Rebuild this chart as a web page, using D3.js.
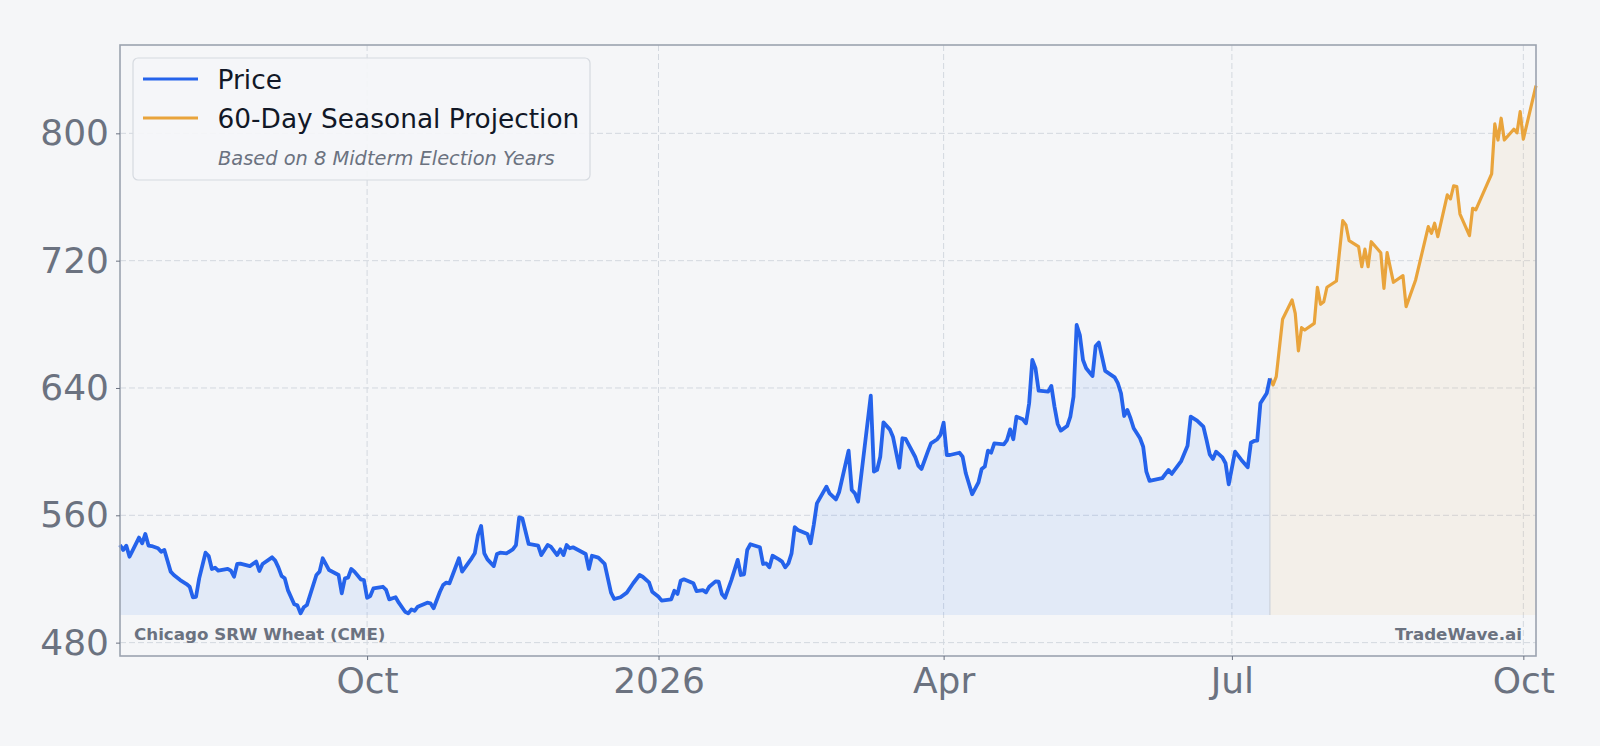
<!DOCTYPE html>
<html>
<head>
<meta charset="utf-8">
<script src="https://cdn.jsdelivr.net/npm/d3@7"></script>
<style>
  html, body { margin: 0; padding: 0; background: #f5f6f8; }
  svg { display: block; font-family: "DejaVu Sans", sans-serif; }
</style>
</head>
<body>
<svg id="chart"></svg>
<script>
// Chicago SRW wheat, daily close
const priceDates = [
  "2025-07-15","2025-07-16","2025-07-17","2025-07-18","2025-07-19","2025-07-21","2025-07-22","2025-07-23","2025-07-24","2025-07-25",
  "2025-07-27","2025-07-28","2025-07-29","2025-07-31","2025-08-01","2025-08-03","2025-08-05","2025-08-06","2025-08-07","2025-08-08",
  "2025-08-09","2025-08-11","2025-08-12","2025-08-13","2025-08-14","2025-08-15","2025-08-18","2025-08-19","2025-08-20","2025-08-21",
  "2025-08-22","2025-08-25","2025-08-27","2025-08-28","2025-08-29","2025-09-01","2025-09-02","2025-09-03","2025-09-04","2025-09-05",
  "2025-09-06","2025-09-08","2025-09-09","2025-09-10","2025-09-11","2025-09-12","2025-09-15","2025-09-16","2025-09-17","2025-09-19",
  "2025-09-22","2025-09-23","2025-09-24","2025-09-25","2025-09-26","2025-09-27","2025-09-29","2025-09-30","2025-10-01","2025-10-02",
  "2025-10-03","2025-10-06","2025-10-07","2025-10-08","2025-10-10","2025-10-11","2025-10-13","2025-10-14","2025-10-15","2025-10-16",
  "2025-10-17","2025-10-20","2025-10-21","2025-10-22","2025-10-24","2025-10-25","2025-10-26","2025-10-27","2025-10-28","2025-10-30",
  "2025-10-31","2025-11-03","2025-11-04","2025-11-05","2025-11-06","2025-11-07","2025-11-08","2025-11-10","2025-11-11","2025-11-12",
  "2025-11-14","2025-11-16","2025-11-17","2025-11-18","2025-11-19","2025-11-21","2025-11-24","2025-11-25","2025-11-27","2025-11-28",
  "2025-11-30","2025-12-01","2025-12-02","2025-12-03","2025-12-04","2025-12-05","2025-12-09","2025-12-10","2025-12-11","2025-12-13",
  "2025-12-15","2025-12-17","2025-12-18","2025-12-20","2025-12-22","2025-12-24","2025-12-26","2025-12-27","2025-12-29","2025-12-30",
  "2026-01-01","2026-01-02","2026-01-05","2026-01-06","2026-01-07","2026-01-08","2026-01-09","2026-01-12","2026-01-13","2026-01-15",
  "2026-01-16","2026-01-17","2026-01-19","2026-01-20","2026-01-21","2026-01-22","2026-01-24","2026-01-26","2026-01-27","2026-01-28",
  "2026-01-29","2026-01-30","2026-02-02","2026-02-03","2026-02-04","2026-02-05","2026-02-06","2026-02-08","2026-02-09","2026-02-10",
  "2026-02-11","2026-02-12","2026-02-13","2026-02-14","2026-02-17","2026-02-18","2026-02-19","2026-02-20","2026-02-23","2026-02-24",
  "2026-02-26","2026-02-27","2026-03-02","2026-03-03","2026-03-04","2026-03-05","2026-03-09","2026-03-10","2026-03-11","2026-03-12",
  "2026-03-13","2026-03-15","2026-03-16","2026-03-18","2026-03-19","2026-03-20","2026-03-23","2026-03-24","2026-03-25","2026-03-27",
  "2026-03-28","2026-03-30","2026-03-31","2026-04-01","2026-04-02","2026-04-03","2026-04-06","2026-04-07","2026-04-08","2026-04-10",
  "2026-04-12","2026-04-13","2026-04-14","2026-04-15","2026-04-16","2026-04-17","2026-04-20","2026-04-21","2026-04-22","2026-04-23",
  "2026-04-24","2026-04-26","2026-04-27","2026-04-28","2026-04-29","2026-04-30","2026-05-01","2026-05-04","2026-05-05","2026-05-06",
  "2026-05-07","2026-05-08","2026-05-10","2026-05-11","2026-05-12","2026-05-13","2026-05-14","2026-05-15","2026-05-16","2026-05-18",
  "2026-05-19","2026-05-20","2026-05-21","2026-05-22","2026-05-25","2026-05-26","2026-05-27","2026-05-28","2026-05-29","2026-05-30",
  "2026-05-31","2026-06-02","2026-06-03","2026-06-04","2026-06-05","2026-06-09","2026-06-11","2026-06-12","2026-06-15","2026-06-17",
  "2026-06-18","2026-06-20","2026-06-22","2026-06-23","2026-06-24","2026-06-25","2026-06-26","2026-06-28","2026-06-29","2026-06-30",
  "2026-07-02","2026-07-04","2026-07-06","2026-07-07","2026-07-08","2026-07-09","2026-07-10","2026-07-12","2026-07-13"
];
const priceValues = [
  541.3, 538.2, 540.9, 534.0, 538.0, 546.0, 542.4, 548.3, 541.0, 540.7,
  539.3, 537.1, 538.2, 524.6, 522.5, 519.3, 516.8, 515.1, 508.5, 508.8,
  520.4, 536.5, 534.4, 526.3, 527.1, 525.2, 526.4, 525.2, 521.4, 529.4,
  529.6, 528.1, 530.9, 525.0, 529.4, 533.6, 531.5, 527.3, 521.9, 520.4,
  513.0, 504.1, 503.4, 498.4, 502.2, 503.6, 522.5, 524.6, 533.0, 525.6,
  522.5, 511.0, 520.4, 520.8, 526.3, 524.6, 519.8, 519.3, 508.2, 509.3,
  514.1, 515.1, 513.1, 507.2, 508.5, 505.1, 499.4, 498.4, 500.9, 500.0,
  502.6, 505.1, 504.7, 501.6, 512.0, 516.2, 517.7, 517.3, 522.5, 533.0,
  524.6, 533.0, 536.1, 547.6, 553.3, 536.1, 532.3, 528.1, 535.7, 536.5,
  536.1, 538.6, 541.3, 558.7, 558.1, 542.0, 540.9, 535.0, 541.3, 540.3,
  535.0, 538.6, 535.0, 541.3, 539.3, 539.9, 535.7, 526.3, 534.6, 533.4,
  529.5, 511.4, 507.4, 508.5, 511.4, 517.3, 522.5, 521.4, 517.9, 512.0,
  508.8, 506.4, 507.2, 512.6, 510.6, 518.9, 519.8, 517.3, 512.4, 513.0,
  511.6, 515.1, 518.5, 518.3, 510.6, 508.2, 519.3, 532.0, 522.5, 522.9,
  538.2, 541.8, 539.9, 529.4, 529.8, 527.3, 534.6, 532.3, 530.9, 527.3,
  529.8, 536.1, 552.5, 550.8, 548.3, 542.4, 553.9, 567.5, 578.0, 573.8,
  570.0, 574.5, 600.6, 575.9, 573.8, 568.6, 635.2, 587.4, 588.5, 596.8,
  618.4, 614.0, 609.4, 589.9, 608.4, 608.0, 596.8, 591.2, 589.1, 600.0,
  605.2, 607.8, 610.5, 618.2, 597.9, 597.9, 599.3, 596.8, 586.4, 573.2,
  580.7, 589.1, 590.6, 600.6, 599.3, 605.2, 604.6, 607.3, 614.0, 607.8,
  622.0, 620.3, 617.8, 630.4, 657.6, 652.4, 638.3, 637.7, 641.3, 628.3,
  617.4, 613.2, 616.1, 622.0, 634.5, 679.6, 673.3, 657.6, 652.4, 647.5,
  666.4, 668.5, 659.7, 650.7, 646.7, 643.0, 636.7, 622.4, 626.2, 621.0,
  614.7, 608.4, 603.1, 587.4, 581.6, 583.3, 588.5, 586.0, 594.1, 603.7,
  622.0, 619.5, 615.7, 607.3, 598.3, 595.4, 600.0, 596.4, 592.7, 579.5,
  600.0, 594.8, 590.2, 605.6, 606.7, 606.9, 630.4, 636.7, 646.1
];

// 60-day seasonal projection (midterm election years)
const projDates = [
  "2026-07-13","2026-07-14","2026-07-15","2026-07-17","2026-07-20","2026-07-21","2026-07-22","2026-07-23","2026-07-24","2026-07-27",
  "2026-07-28","2026-07-29","2026-07-30","2026-07-31","2026-08-03","2026-08-05","2026-08-06","2026-08-07","2026-08-10","2026-08-11",
  "2026-08-12","2026-08-13","2026-08-14","2026-08-17","2026-08-18","2026-08-19","2026-08-21","2026-08-24","2026-08-25","2026-08-28",
  "2026-09-01","2026-09-02","2026-09-03","2026-09-04","2026-09-07","2026-09-08","2026-09-09","2026-09-10","2026-09-11","2026-09-14",
  "2026-09-15","2026-09-16","2026-09-21","2026-09-22","2026-09-23","2026-09-24","2026-09-25","2026-09-28","2026-09-29","2026-09-30",
  "2026-10-01","2026-10-05"
];
const projValues = [
  646.1, 641.9, 647.1, 683.2, 695.3, 686.9, 663.3, 677.9, 676.4, 680.6,
  703.3, 692.6, 694.2, 703.3, 707.2, 745.1, 742.4, 732.6, 728.8, 716.2,
  727.2, 716.2, 731.9, 725.0, 702.6, 725.0, 706.4, 710.6, 691.1, 707.9,
  741.4, 737.2, 743.5, 735.1, 761.3, 758.8, 767.0, 766.5, 749.3, 735.7,
  752.9, 751.9, 774.5, 805.9, 795.8, 809.5, 795.8, 802.6, 800.4, 813.6,
  796.3, 830.0
];

const yTicks = [480, 560, 640, 720, 800];
const xTickDates = ["2025-10-01", "2026-01-01", "2026-04-01", "2026-07-01", "2026-10-01"];
const xTickLabels = ["Oct", "2026", "Apr", "Jul", "Oct"];
const xDomain = ["2025-07-15", "2026-10-05"];
const yDomain = [471.6, 855.5];
const fillBase = 497.3;

const width = 1600;
const height = 746;
const marginTop = 45;
const marginRight = 64;
const marginBottom = 90;
const marginLeft = 120;

const blue = "#2563eb";
const orange = "#e9a43c";
const textGray = "#6b7280";

const parse = d3.utcParse("%Y-%m-%d");
const price = priceDates.map((d, i) => ({ date: parse(d), value: priceValues[i] }));
const proj = projDates.map((d, i) => ({ date: parse(d), value: projValues[i] }));

const x = d3.scaleUtc(xDomain.map(parse), [marginLeft, width - marginRight]);
const y = d3.scaleLinear(yDomain, [height - marginBottom, marginTop]);

const line = d3.line()
  .x(d => x(d.date))
  .y(d => y(d.value));

const area = d3.area()
  .x(d => x(d.date))
  .y0(y(fillBase))
  .y1(d => y(d.value));

const svg = d3.select("svg#chart")
  .attr("width", width)
  .attr("height", height)
  .attr("viewBox", [0, 0, width, height]);

svg.append("rect")
  .attr("width", width)
  .attr("height", height)
  .attr("fill", "#f5f6f8");

// grid
const grid = svg.append("g")
  .attr("stroke", "#d3d8df")
  .attr("stroke-width", 1)
  .attr("stroke-dasharray", "6,3");
grid.selectAll(".hgrid")
  .data(yTicks)
  .join("line")
  .attr("x1", marginLeft)
  .attr("x2", width - marginRight)
  .attr("y1", d => y(d))
  .attr("y2", d => y(d));
grid.selectAll(".vgrid")
  .data(xTickDates)
  .join("line")
  .attr("x1", d => x(parse(d)))
  .attr("x2", d => x(parse(d)))
  .attr("y1", marginTop)
  .attr("y2", height - marginBottom);

// filled areas
svg.append("path")
  .attr("fill", "#3b82f6")
  .attr("fill-opacity", 0.1)
  .attr("d", area(price));
svg.append("path")
  .attr("fill", orange)
  .attr("fill-opacity", 0.08)
  .attr("d", area(proj));

const last = price[price.length - 1];
svg.append("line")
  .attr("x1", x(last.date))
  .attr("x2", x(last.date))
  .attr("y1", y(fillBase))
  .attr("y2", y(last.value))
  .attr("stroke", "#cdd3dc")
  .attr("stroke-width", 1.2);

// lines
svg.append("path")
  .attr("fill", "none")
  .attr("stroke", orange)
  .attr("stroke-width", 3.2)
  .attr("stroke-linejoin", "round")
  .attr("d", line(proj));
svg.append("path")
  .attr("fill", "none")
  .attr("stroke", blue)
  .attr("stroke-width", 3.8)
  .attr("stroke-linejoin", "round")
  .attr("d", line(price));

// spines
svg.append("rect")
  .attr("x", marginLeft)
  .attr("y", marginTop)
  .attr("width", width - marginLeft - marginRight)
  .attr("height", height - marginTop - marginBottom)
  .attr("fill", "none")
  .attr("stroke", "#9ca3af")
  .attr("stroke-width", 1.6);

// y axis
svg.append("g")
  .attr("transform", `translate(${marginLeft},0)`)
  .call(d3.axisLeft(y).tickValues(yTicks).tickSize(4).tickPadding(7))
  .call(g => g.select(".domain").remove())
  .call(g => g.selectAll(".tick line").attr("stroke", textGray))
  .call(g => g.selectAll(".tick text")
    .attr("fill", textGray)
    .attr("font-size", 36)
    .attr("font-family", "DejaVu Sans"));

// x axis
svg.append("g")
  .attr("transform", `translate(0,${height - marginBottom})`)
  .call(d3.axisBottom(x)
    .tickValues(xTickDates.map(parse))
    .tickFormat((d, i) => xTickLabels[i])
    .tickSize(4)
    .tickPadding(7))
  .call(g => g.select(".domain").remove())
  .call(g => g.selectAll(".tick line").attr("stroke", textGray))
  .call(g => g.selectAll(".tick text")
    .attr("fill", textGray)
    .attr("font-size", 36)
    .attr("font-family", "DejaVu Sans"));

// watermarks
svg.append("text")
  .attr("x", marginLeft + 14)
  .attr("y", 640)
  .attr("fill", textGray)
  .attr("font-size", 16.7)
  .attr("font-weight", "bold")
  .text("Chicago SRW Wheat (CME)");
svg.append("text")
  .attr("x", width - marginRight - 14)
  .attr("y", 640)
  .attr("text-anchor", "end")
  .attr("fill", textGray)
  .attr("font-size", 16.7)
  .attr("font-weight", "bold")
  .text("TradeWave.ai");

// legend
const legend = svg.append("g");
legend.append("rect")
  .attr("x", 133)
  .attr("y", 58)
  .attr("width", 457)
  .attr("height", 122)
  .attr("rx", 5)
  .attr("fill", "#f5f6f8")
  .attr("fill-opacity", 0.9)
  .attr("stroke", "#d6dae0")
  .attr("stroke-width", 1.2);

const legendItems = [
  { label: "Price", color: blue, y: 79 },
  { label: "60-Day Seasonal Projection", color: orange, y: 118 }
];
for (let item of legendItems) {
  legend.append("line")
    .attr("x1", 143)
    .attr("x2", 198)
    .attr("y1", item.y)
    .attr("y2", item.y)
    .attr("stroke", item.color)
    .attr("stroke-width", 3.2);
  legend.append("text")
    .attr("x", 217.5)
    .attr("y", item.y)
    .attr("dy", "0.36em")
    .attr("fill", "#111827")
    .attr("font-size", 26.4)
    .text(item.label);
}
legend.append("text")
  .attr("x", 218)
  .attr("y", 158)
  .attr("dy", "0.36em")
  .attr("fill", textGray)
  .attr("font-size", 19.4)
  .attr("font-style", "italic")
  .text("Based on 8 Midterm Election Years");
</script>
</body>
</html>
